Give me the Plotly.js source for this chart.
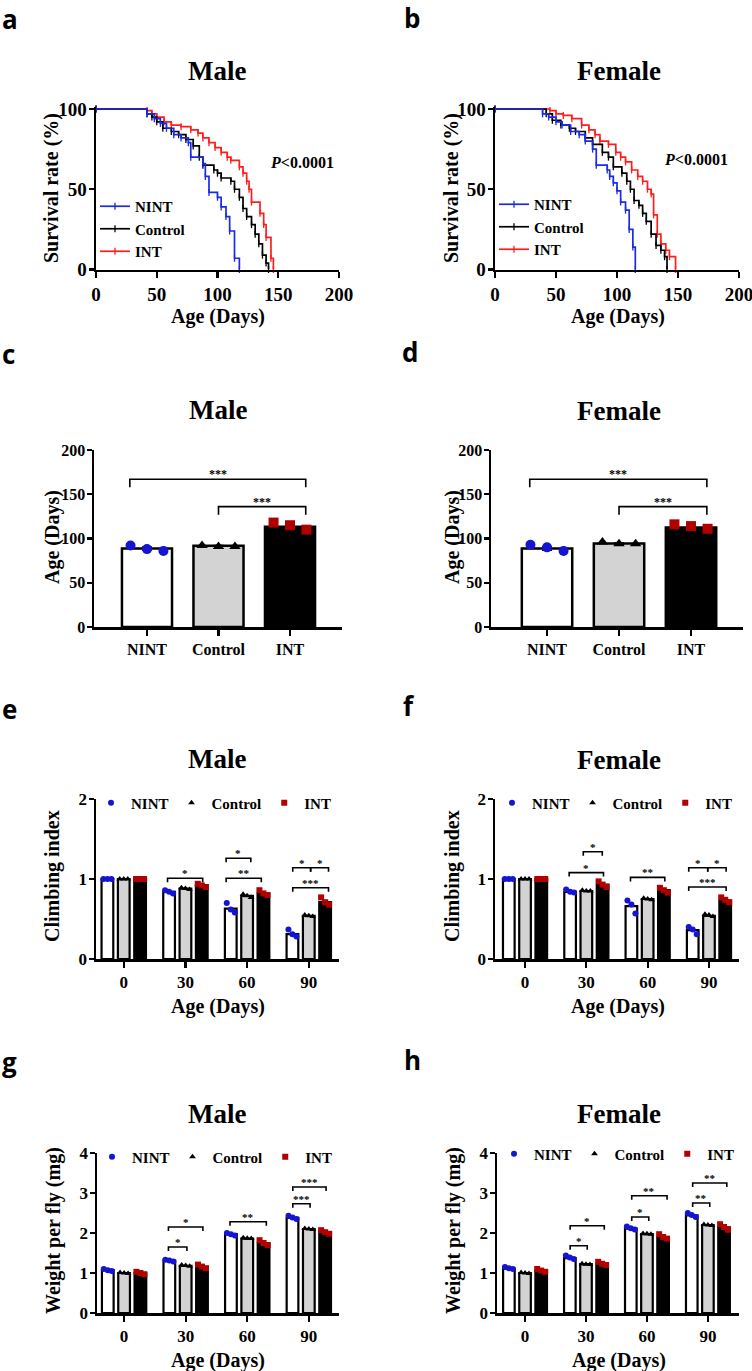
<!DOCTYPE html>
<html><head><meta charset="utf-8">
<script src="https://cdn.plot.ly/plotly-3.0.1.min.js"></script>
<style>html,body{margin:0;padding:0;background:#fff;overflow:hidden;width:752px;height:1371px;}#chart{width:752px;height:1371px;overflow:hidden;}</style>
</head><body><div id="chart"></div>
<script>
// ================= DATA =================
const groupNames = ['NINT', 'Control', 'INT'];
const ageTickLabels = ['0', '30', '60', '90'];

// Kaplan-Meier survival (%), male
const survMaleNINT_t = [0, 42, 48, 53, 58, 64, 70, 76, 78, 88, 90, 93, 100, 103, 107, 110, 114, 118];
const survMaleNINT_s = [100, 97, 94, 91, 88, 84, 82, 79, 70, 66, 58, 48, 45, 39, 33, 24, 7, 0];
const survMaleControl_t = [0, 42, 46, 50, 55, 62, 68, 74, 80, 85, 88, 97, 100, 103, 111, 114, 118, 121, 124, 128, 131, 134, 137, 140, 142];
const survMaleControl_s = [100, 97, 95, 92, 88, 86, 84, 81, 77, 70, 65, 62, 60, 57, 55, 50, 45, 38, 33, 28, 22, 16, 9, 4, 0];
const survMaleINT_t = [0, 42, 46, 50, 56, 62, 70, 78, 84, 88, 93, 98, 103, 108, 111, 118, 121, 124, 126, 128, 135, 138, 140, 144, 146];
const survMaleINT_s = [100, 99, 97, 95, 92, 90, 89, 87, 85, 82, 79, 76, 73, 70, 68, 64, 60, 55, 50, 42, 35, 28, 20, 7, 0];
// Kaplan-Meier survival (%), female
const survFemaleNINT_t = [0, 39, 44, 50, 55, 62, 69, 74, 80, 83, 92, 94, 97, 100, 103, 107, 110, 113, 115];
const survFemaleNINT_s = [100, 97, 95, 92, 90, 86, 84, 80, 75, 65, 62, 58, 54, 49, 42, 37, 25, 14, 0];
const survFemaleControl_t = [0, 42, 47, 54, 61, 66, 74, 80, 88, 93, 97, 104, 108, 111, 114, 118, 121, 124, 128, 132, 136, 139, 141];
const survFemaleControl_s = [100, 97, 93, 90, 88, 86, 82, 78, 73, 70, 64, 60, 55, 50, 43, 40, 35, 30, 22, 15, 12, 8, 0];
const survFemaleINT_t = [0, 45, 50, 56, 63, 71, 77, 82, 86, 93, 99, 103, 107, 112, 117, 121, 125, 128, 130, 133, 136, 140, 143, 148];
const survFemaleINT_s = [100, 99, 97, 96, 94, 90, 87, 84, 80, 78, 73, 70, 67, 62, 58, 55, 50, 47, 34, 22, 16, 12, 8, 0];

// Mean lifespan (days): bars, SEM and replicate points
const lifespanMale = [88.7, 91.7, 113.2];
const lifespanMaleErr = [1.8, 0.5, 2.3];
const lifespanMalePts = [[92, 88, 86], [92, 91, 91], [118, 115, 110]];
const lifespanFemale = [88.7, 94.3, 112.5];
const lifespanFemaleErr = [2.0, 0.7, 1.5];
const lifespanFemalePts = [[93, 90, 86], [96, 94, 94], [116, 114, 111]];
const sigLifespanMale = [[-0.24, 2.22, 167, '***'], [1.0, 2.22, 136, '***']];
const sigLifespanFemale = [[-0.24, 2.22, 167, '***'], [1.0, 2.22, 136, '***']];

// Climbing index
const climbMaleNINT = [1.00, 0.84, 0.63, 0.31];
const climbMaleControl = [1.00, 0.88, 0.79, 0.54];
const climbMaleINT = [1.00, 0.92, 0.82, 0.71];
const climbMaleNINTPts = [[1, 1, 1], [0.86, 0.84, 0.82], [0.70, 0.62, 0.58], [0.37, 0.31, 0.28]];
const climbMaleControlPts = [[1, 1, 1], [0.89, 0.88, 0.87], [0.81, 0.79, 0.77], [0.55, 0.54, 0.53]];
const climbMaleINTPts = [[1, 1, 1], [0.94, 0.92, 0.90], [0.86, 0.82, 0.80], [0.77, 0.71, 0.68]];
const climbFemaleNINT = [1.00, 0.84, 0.66, 0.36];
const climbFemaleControl = [1.00, 0.85, 0.75, 0.54];
const climbFemaleINT = [1.00, 0.93, 0.86, 0.73];
const climbFemaleNINTPts = [[1, 1, 1], [0.87, 0.84, 0.83], [0.73, 0.68, 0.57], [0.40, 0.37, 0.31]];
const climbFemaleControlPts = [[1, 1, 1], [0.86, 0.85, 0.85], [0.76, 0.75, 0.74], [0.56, 0.55, 0.53]];
const climbFemaleINTPts = [[1, 1, 1], [0.97, 0.93, 0.90], [0.89, 0.86, 0.83], [0.77, 0.74, 0.71]];
const sigClimbMale = [[0.71, 1.28, 1.01, '*'], [1.66, 2.06, 1.26, '*'], [1.66, 2.23, 1.01, '**'],
                      [2.74, 3.03, 1.14, '*'], [3.03, 3.32, 1.14, '*'], [2.74, 3.32, 0.89, '***']];
const sigClimbFemale = [[0.95, 1.26, 1.34, '*'], [0.72, 1.28, 1.08, '*'], [1.72, 2.28, 1.02, '**'],
                        [2.67, 2.98, 1.14, '*'], [2.98, 3.28, 1.14, '*'], [2.67, 3.28, 0.90, '***']];

// Weight per fly (mg)
const weightMaleNINT = [1.07, 1.31, 1.97, 2.38];
const weightMaleControl = [1.00, 1.18, 1.86, 2.10];
const weightMaleINT = [0.99, 1.14, 1.74, 2.02];
const weightMaleNINTPts = [[1.10, 1.07, 1.05], [1.33, 1.31, 1.29], [2.00, 1.97, 1.94], [2.43, 2.39, 2.35]];
const weightMaleControlPts = [[1.01, 1.00, 0.99], [1.20, 1.19, 1.17], [1.88, 1.87, 1.86], [2.11, 2.10, 2.09]];
const weightMaleINTPts = [[1.03, 1.00, 0.97], [1.21, 1.16, 1.12], [1.82, 1.75, 1.70], [2.07, 2.02, 1.98]];
const weightFemaleNINT = [1.11, 1.37, 2.11, 2.44];
const weightFemaleControl = [1.00, 1.22, 1.97, 2.20];
const weightFemaleINT = [1.06, 1.23, 1.89, 2.14];
const weightFemaleNINTPts = [[1.15, 1.12, 1.10], [1.44, 1.39, 1.35], [2.16, 2.12, 2.09], [2.50, 2.45, 2.40]];
const weightFemaleControlPts = [[1.01, 1.00, 0.99], [1.23, 1.22, 1.21], [1.99, 1.98, 1.97], [2.21, 2.20, 2.19]];
const weightFemaleINTPts = [[1.10, 1.06, 1.03], [1.28, 1.23, 1.20], [1.97, 1.90, 1.86], [2.22, 2.15, 2.08]];
const sigWeightMale = [[0.72, 1.02, 1.65, '*'], [0.72, 1.28, 2.15, '*'], [1.72, 2.31, 2.28, '**'],
                       [2.74, 3.02, 2.73, '***'], [2.74, 3.28, 3.15, '***']];
const sigWeightFemale = [[0.74, 1.02, 1.68, '*'], [0.74, 1.30, 2.18, '*'], [1.75, 2.03, 2.40, '*'],
                         [1.75, 2.33, 2.93, '**'], [2.75, 3.03, 2.75, '**'], [2.75, 3.31, 3.25, '**']];

// ================= STYLE / LAYOUT HELPERS =================
const W = 752, H = 1371;
const SERIF = 'Liberation Serif, Times New Roman, serif';
const SANS = 'Open Sans, Liberation Sans, Arial, sans-serif';
const BLUE = '#1414d2', DARKRED = '#b00000', RED = '#ff1e1e', SBLUE = '#1a2be6', GRAY = '#d3d3d3';
const fillColors = ['#ffffff', GRAY, '#000000'];
const ptColors = [BLUE, '#000000', DARKRED];
const errColors = ['#000000', '#000000', DARKRED];
const ptSymbols = ['circle', 'triangle-up', 'square'];

const px2x = p => p / W;
const px2y = p => 1 - p / H;
const fontB = (size) => ({family: SERIF, size: size, color: '#000', weight: 'bold'});

function axis(domainPx, range, anchor, isY, extra) {
  const dom = isY ? [px2y(domainPx[1]), px2y(domainPx[0])] : [px2x(domainPx[0]), px2x(domainPx[1])];
  return Object.assign({
    domain: dom, range: range, anchor: anchor, showline: true, linewidth: 2.5, linecolor: '#000',
    ticks: 'outside', ticklen: 6, tickwidth: 2.2, tickcolor: '#000', showgrid: false, zeroline: false,
    fixedrange: true, tickfont: fontB(17), ticklabeloverflow: 'allow'
  }, isY ? {ticklen: 5, ticklabelstandoff: -2} : {}, extra || {});
}

// Panel geometry (pixels): x from..to, y top..bottom, data ranges
const P = {
  a: {xs: '', x: [96, 339], y: [106.6, 269.5], xr: [0, 200], yr: [0, 101.5]},
  b: {xs: '2', x: [495, 739], y: [106.6, 269.5], xr: [0, 200], yr: [0, 101.5]},
  c: {xs: '3', x: [94, 342], y: [450, 627], xr: [-0.741, 2.727], yr: [0, 200]},
  d: {xs: '4', x: [491, 743], y: [450, 627], xr: [-0.778, 2.722], yr: [0, 200]},
  e: {xs: '5', x: [96, 339], y: [799, 959], xr: [-0.45, 3.49], yr: [0, 2]},
  f: {xs: '6', x: [495, 739], y: [799, 959], xr: [-0.49, 3.49], yr: [0, 2]},
  g: {xs: '7', x: [97, 339], y: [1153, 1313], xr: [-0.44, 3.49], yr: [0, 4]},
  h: {xs: '8', x: [497, 739], y: [1153, 1313], xr: [-0.46, 3.51], yr: [0, 4]}
};

const traces = [];
const layout = {
  width: W, height: H, margin: {l: 0, r: 0, t: 0, b: 0}, paper_bgcolor: '#fff', plot_bgcolor: 'rgba(0,0,0,0)',
  showlegend: true, hovermode: false, barmode: 'overlay', font: {family: SERIF, color: '#000'},
  annotations: [], shapes: []
};

function xName(k) { return 'x' + P[k].xs; }
function yName(k) { return 'y' + P[k].xs; }

function axisTitle(text, xpx, ypx, vertical) {
  layout.annotations.push({
    xref: 'paper', yref: 'paper', x: px2x(xpx), y: px2y(ypx), xanchor: 'center', yanchor: 'middle',
    text: text, textangle: vertical ? -90 : 0, showarrow: false, font: fontB(20)
  });
}

// ---------- Survival panels ----------
function survivalPanel(k, series, legendName, legX, legY, pPos) {
  const p = P[k];
  layout['xaxis' + p.xs] = axis(p.x, p.xr, yName(k), false, {tickvals: [0, 50, 100, 150, 200], tickfont: fontB(19)});
  layout['yaxis' + p.xs] = axis(p.y, p.yr, xName(k), true, {tickvals: [0, 50, 100], tickfont: fontB(19)});
  series.forEach(s => {
    traces.push({
      type: 'scatter', mode: 'lines+markers', x: s.t, y: s.s, name: s.name, xaxis: xName(k), yaxis: yName(k),
      legend: legendName, legendgroup: k + s.name, line: {shape: 'hv', color: s.color, width: 1.7},
      marker: {symbol: 'line-ns-open', size: 5, color: s.color, line: {color: s.color, width: 1.3}},
      cliponaxis: false
    });
  });
  layout[legendName] = {
    x: px2x(legX), y: px2y(legY), xanchor: 'left', yanchor: 'top', bgcolor: 'rgba(0,0,0,0)',
    font: fontB(15), traceorder: 'reversed', itemwidth: 30, tracegroupgap: 2
  };
  layout.annotations.push({
    xref: 'paper', yref: 'paper', x: px2x(pPos[0]), y: px2y(pPos[1]), xanchor: 'center', yanchor: 'middle',
    text: '<i>P</i>&lt;0.0001', showarrow: false, font: fontB(16)
  });
}

survivalPanel('a', [
  {t: survMaleINT_t, s: survMaleINT_s, name: groupNames[2], color: RED},
  {t: survMaleControl_t, s: survMaleControl_s, name: groupNames[1], color: '#000'},
  {t: survMaleNINT_t, s: survMaleNINT_s, name: groupNames[0], color: SBLUE}
], 'legend', 95, 190, [302, 162]);
survivalPanel('b', [
  {t: survFemaleINT_t, s: survFemaleINT_s, name: groupNames[2], color: RED},
  {t: survFemaleControl_t, s: survFemaleControl_s, name: groupNames[1], color: '#000'},
  {t: survFemaleNINT_t, s: survFemaleNINT_s, name: groupNames[0], color: SBLUE}
], 'legend2', 494, 188, [696, 160]);
axisTitle('Survival rate (%)', 52, 188, true);
axisTitle('Survival rate (%)', 452, 188, true);
axisTitle('Age (Days)', 218, 316, false);
axisTitle('Age (Days)', 618, 316, false);

// ---------- Bracket helper ----------
function brackets(k, list, dropPx, starSize) {
  const p = P[k];
  const unitsPerPx = (p.yr[1] - p.yr[0]) / (p.y[1] - p.y[0]);
  const drop = dropPx * unitsPerPx;
  list.forEach(b => {
    const [x0, x1, y, lab] = b;
    layout.shapes.push({
      type: 'path', xref: xName(k), yref: yName(k),
      path: `M ${x0},${y - drop} L ${x0},${y} L ${x1},${y} L ${x1},${y - drop}`,
      line: {color: '#000', width: 1.6}
    });
    layout.annotations.push({
      xref: xName(k), yref: yName(k), x: (x0 + x1) / 2, y: y, xanchor: 'center', yanchor: 'middle',
      yshift: 5, text: lab, showarrow: false, font: fontB(starSize)
    });
  });
}

// ---------- Lifespan bar panels ----------
function lifespanPanel(k, vals, errs, pts, sig) {
  const p = P[k];
  layout['xaxis' + p.xs] = axis(p.x, p.xr, yName(k), false, {tickvals: [0, 1, 2], ticktext: groupNames, tickfont: fontB(16)});
  layout['yaxis' + p.xs] = axis(p.y, p.yr, xName(k), true, {tickvals: [0, 50, 100, 150, 200], tickfont: fontB(16)});
  vals.forEach((v, gi) => {
    traces.push({
      type: 'bar', x: [gi], y: [v], width: 0.7, xaxis: xName(k), yaxis: yName(k), showlegend: false,
      marker: {color: fillColors[gi], line: {color: '#000', width: 2.5}},
      error_y: {type: 'data', array: [errs[gi]], visible: true, color: errColors[gi], thickness: 1.5, width: 5}
    });
  });
  const jit = [-0.23, 0, 0.23];
  pts.forEach((g, gi) => {
    traces.push({
      type: 'scatter', mode: 'markers', x: g.map((_, j) => gi + jit[j]), y: g, xaxis: xName(k), yaxis: yName(k),
      showlegend: false, cliponaxis: false,
      marker: {symbol: ptSymbols[gi], size: 10, color: ptColors[gi]}
    });
  });
  brackets(k, sig, 8, 12);
}
lifespanPanel('c', lifespanMale, lifespanMaleErr, lifespanMalePts, sigLifespanMale);
lifespanPanel('d', lifespanFemale, lifespanFemaleErr, lifespanFemalePts, sigLifespanFemale);
axisTitle('Age (Days)', 52, 537, true);
axisTitle('Age (Days)', 452, 537, true);

// ---------- Grouped bar panels (climbing, weight) ----------
function groupedPanel(k, vals, pts, sig, yticks, legendName, legX, legY) {
  const p = P[k];
  layout['xaxis' + p.xs] = axis(p.x, p.xr, yName(k), false, {tickvals: [0, 1, 2, 3], ticktext: ageTickLabels, tickfont: fontB(17)});
  layout['yaxis' + p.xs] = axis(p.y, p.yr, xName(k), true, {tickvals: yticks, tickfont: fontB(17)});
  const offs = [-0.265, 0, 0.265];
  const jit = [-0.065, 0, 0.065];
  vals.forEach((v, s) => {
    traces.push({
      type: 'bar', x: v.map((_, i) => i + offs[s]), y: v, width: 0.19, xaxis: xName(k), yaxis: yName(k),
      showlegend: false, marker: {color: fillColors[s], line: {color: '#000', width: 2.2}}
    });
  });
  pts.forEach((series, s) => {
    const xs = [], ys = [];
    series.forEach((g, i) => g.forEach((val, j) => { xs.push(i + offs[s] + jit[j]); ys.push(val); }));
    traces.push({
      type: 'scatter', mode: 'markers', x: xs, y: ys, name: groupNames[s], xaxis: xName(k), yaxis: yName(k),
      legend: legendName, showlegend: true, cliponaxis: false,
      marker: {symbol: ptSymbols[s], size: 6, color: ptColors[s]}
    });
  });
  layout[legendName] = {
    orientation: 'h', x: px2x(legX), y: px2y(legY), xanchor: 'left', yanchor: 'middle',
    bgcolor: 'rgba(0,0,0,0)', font: fontB(15), traceorder: 'normal', itemwidth: 30, indentation: -2
  };
  brackets(k, sig, 4, 11);
}
groupedPanel('e', [climbMaleNINT, climbMaleControl, climbMaleINT],
  [climbMaleNINTPts, climbMaleControlPts, climbMaleINTPts], sigClimbMale, [0, 1, 2], 'legend3', 93, 803);
groupedPanel('f', [climbFemaleNINT, climbFemaleControl, climbFemaleINT],
  [climbFemaleNINTPts, climbFemaleControlPts, climbFemaleINTPts], sigClimbFemale, [0, 1, 2], 'legend4', 494, 803);
groupedPanel('g', [weightMaleNINT, weightMaleControl, weightMaleINT],
  [weightMaleNINTPts, weightMaleControlPts, weightMaleINTPts], sigWeightMale, [0, 1, 2, 3, 4], 'legend5', 94, 1157);
groupedPanel('h', [weightFemaleNINT, weightFemaleControl, weightFemaleINT],
  [weightFemaleNINTPts, weightFemaleControlPts, weightFemaleINTPts], sigWeightFemale, [0, 1, 2, 3, 4], 'legend6', 496, 1154);
axisTitle('Climbing index', 52, 876, true);
axisTitle('Climbing index', 452, 876, true);
axisTitle('Weight per fly (mg)', 53, 1231, true);
axisTitle('Weight per fly (mg)', 453, 1231, true);
axisTitle('Age (Days)', 218, 1006, false);
axisTitle('Age (Days)', 618, 1006, false);
axisTitle('Age (Days)', 218, 1360, false);
axisTitle('Age (Days)', 619, 1360, false);

// ---------- Titles and panel letters ----------
const titles = [['Male', 217, 71], ['Female', 619, 71], ['Male', 218, 410], ['Female', 619, 411],
                ['Male', 217, 759], ['Female', 619, 760], ['Male', 217, 1114], ['Female', 619, 1114]];
titles.forEach(t => layout.annotations.push({
  xref: 'paper', yref: 'paper', x: px2x(t[1]), y: px2y(t[2]), xanchor: 'center', yanchor: 'middle',
  text: t[0], showarrow: false, font: fontB(27)
}));
const letters = [['a', 0, 19], ['b', 402, 18], ['c', 0, 354], ['d', 400, 352], ['e', 0, 709], ['f', 401, 706],
                 ['g', 0, 1062], ['h', 402, 1060]];
letters.forEach(t => layout.annotations.push({
  xref: 'paper', yref: 'paper', x: px2x(t[1]), y: px2y(t[2]), xanchor: 'left', yanchor: 'middle',
  text: t[0], showarrow: false, font: {family: SANS, size: 26, color: '#000', weight: 'bold'}
}));

Plotly.newPlot('chart', traces, layout, {displayModeBar: false, staticPlot: true});
</script>
</body></html>
